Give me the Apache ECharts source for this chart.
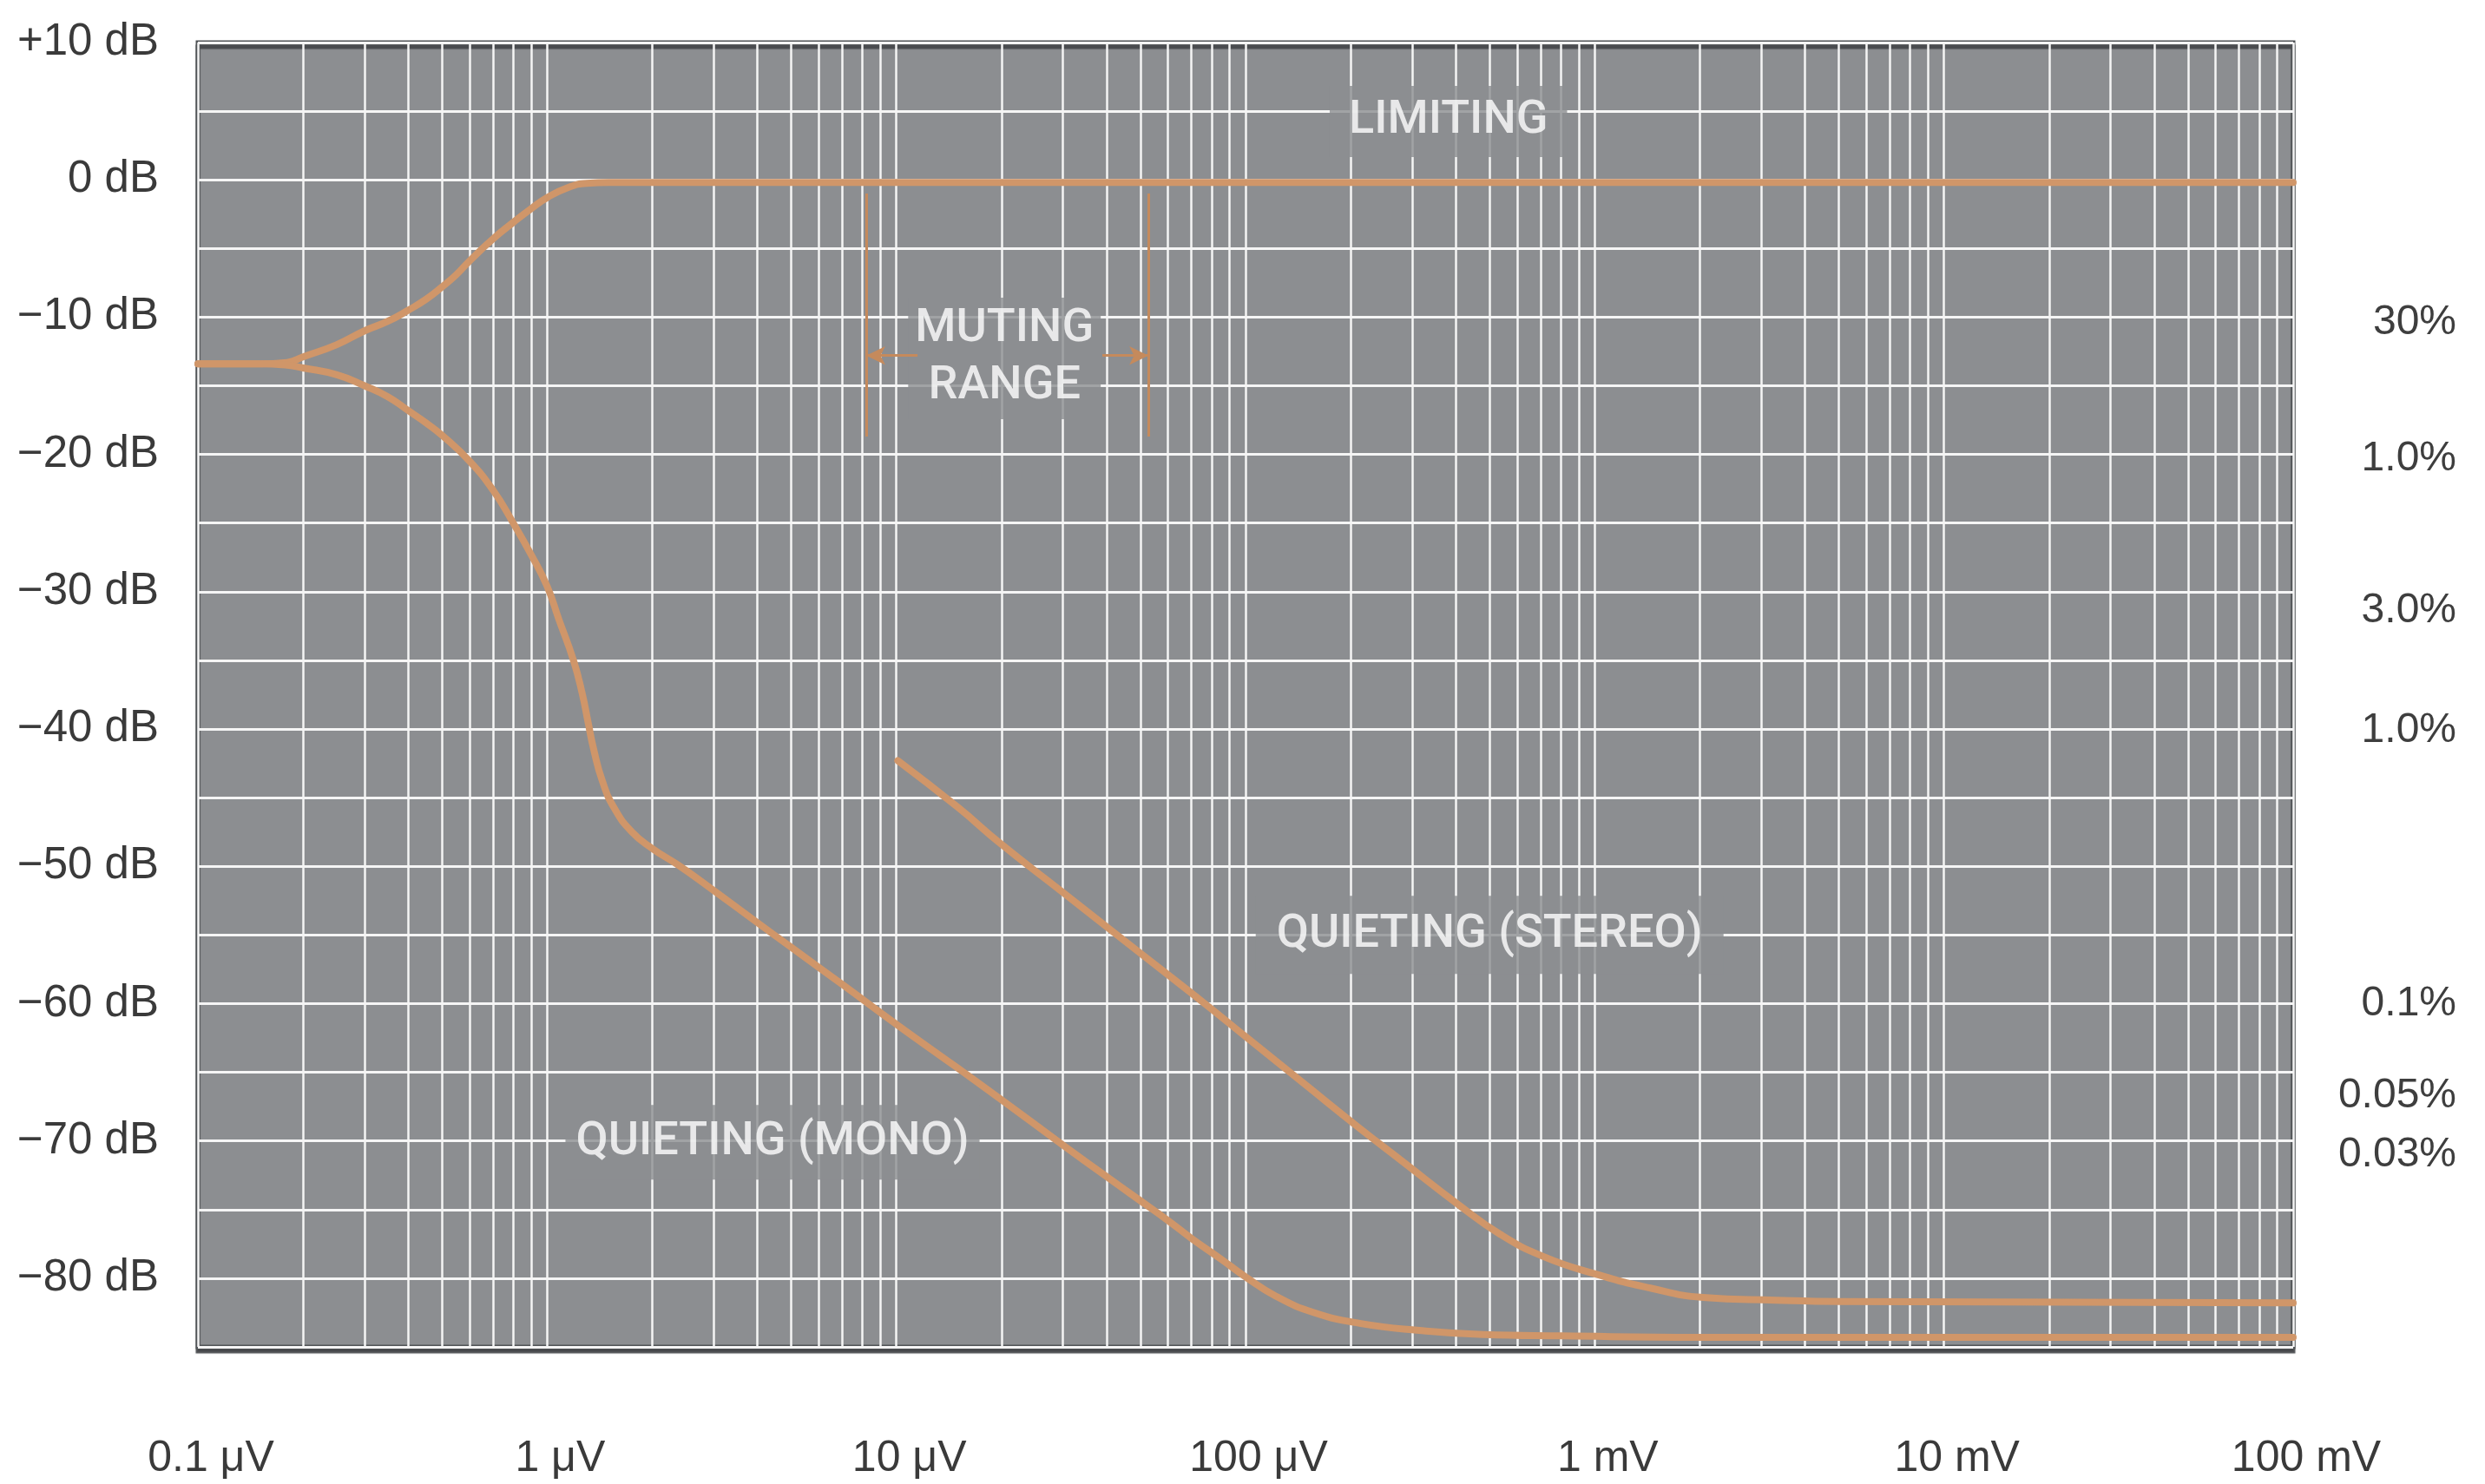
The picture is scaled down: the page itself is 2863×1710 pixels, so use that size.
<!DOCTYPE html>
<html><head><meta charset="utf-8">
<script src="https://cdn.jsdelivr.net/npm/echarts@6/dist/echarts.min.js"></script>
<style>html,body{margin:0;padding:0;background:#fff}#c{width:2863px;height:1710px}</style>
</head><body><div id="c"></div>
<script>
// ---------- data (x in µV, y in dB) ----------
const xTickValues = [0.1, 1, 10, 100, 1000, 10000, 100000];
const xTickLabels = ['0.1 μV', '1 μV', '10 μV', '100 μV', '1 mV', '10 mV', '100 mV'];
const yTickValues = [10, 0, -10, -20, -30, -40, -50, -60, -70, -80];
const yTickLabels = ['+10 dB', '0 dB', '−10 dB', '−20 dB', '−30 dB', '−40 dB', '−50 dB', '−60 dB', '−70 dB', '−80 dB'];
const rightTickValues = [-10.4, -20.3, -31.4, -40.1, -60, -66.7, -71];
const rightTickLabels = ['30%', '1.0%', '3.0%', '1.0%', '0.1%', '0.05%', '0.03%'];

const limitingX = [0.1, 0.15, 0.18, 0.2, 0.25, 0.3, 0.35, 0.4, 0.45, 0.5, 0.55, 0.6, 0.7, 0.8, 0.9, 1.0, 1.15, 1.3, 1.5, 2, 10, 100, 1000, 10000, 100000];
const limitingY = [-13.4, -13.4, -13.3, -12.9, -12.0, -11.0, -10.3, -9.5, -8.7, -7.8, -6.9, -5.9, -4.3, -3.1, -2.1, -1.3, -0.55, -0.25, -0.2, -0.2, -0.2, -0.2, -0.2, -0.2, -0.2];

const monoX = [0.1, 0.15, 0.18, 0.2, 0.25, 0.3, 0.35, 0.4, 0.45, 0.5, 0.6, 0.7, 0.8, 0.9, 1.0, 1.08, 1.19, 1.26, 1.31, 1.36, 1.44, 1.56, 1.75, 2.0, 2.37, 2.87, 4, 5, 7, 10, 15, 20, 30, 40, 49, 60, 70, 85, 100, 122, 157, 214, 314, 478, 808, 2000, 100000];
const monoY = [-13.4, -13.4, -13.5, -13.7, -14.2, -15.0, -15.8, -16.8, -17.7, -18.6, -20.5, -22.6, -25.0, -27.3, -29.6, -32.0, -35.0, -37.4, -39.5, -41.5, -43.8, -45.8, -47.5, -48.7, -49.9, -51.4, -54.1, -55.9, -58.6, -61.5, -64.7, -67.0, -70.3, -72.6, -74.2, -75.8, -77.1, -78.6, -79.9, -81.3, -82.5, -83.3, -83.8, -84.1, -84.2, -84.3, -84.3];

const stereoX = [10.1, 15, 20, 30, 40, 60, 80, 100, 150, 208, 285, 405, 536, 710, 1007, 1434, 2043, 3300, 5000, 100000];
const stereoY = [-42.3, -45.7, -48.4, -51.9, -54.4, -57.9, -60.4, -62.4, -66.0, -68.9, -71.6, -74.6, -76.8, -78.4, -79.7, -80.7, -81.4, -81.6, -81.7, -81.8];

const mutingX = [8.2, 52.7];          // muting range limits
const mutingTop = -1.0, mutingBottom = -18.7;
const mutingArrowY = -12.8;
const mutingArrowTailX = [11.5, 38.9];

const annotTexts = ['LIMITING', 'MUTING\nRANGE', 'QUIETING (STEREO)', 'QUIETING (MONO)'];
const annotX = [381, 20.4, 500, 4.42];
const annotY = [4.25, -13.0, -55.0, -70.1];

// ---------- helpers ----------
function lookup(vals, labels, v) {
  for (let i = 0; i < vals.length; i++) {
    if (Math.abs(vals[i] - v) <= 1e-6 * Math.max(1, Math.abs(vals[i]))) return labels[i];
  }
  return '';
}
const zip = (xs, ys) => xs.map((x, i) => [x, ys[i]]);
const minorX = [];
for (let d = 0; d < xTickValues.length - 1; d++) for (let k = 2; k <= 9; k++) minorX.push(xTickValues[d] * k);

const BG = '#8c8e91';
const CURVE = '#d09669';
const GRIDC = '#f5f5f5';
const sans = '"Liberation Sans", Arial, sans-serif';
const annotFont = 'Roboto, "Liberation Sans", sans-serif';

const annotPadding = [[8, 22], [4, 8], [12, 24], [10, 12]];

const chart = echarts.init(document.getElementById('c'), null, {renderer: 'canvas'});
chart.setOption({
  animation: false,
  backgroundColor: '#ffffff',
  grid: {
    left: 228, right: 221, top: 49, bottom: 158,
    show: true, backgroundColor: BG, borderColor: '#515457', borderWidth: 5,
    shadowColor: 'rgba(70,72,75,0.95)', shadowOffsetY: 5, shadowBlur: 1,
    containLabel: false, outerBoundsMode: 'none'
  },
  xAxis: [{
    type: 'log', logBase: 10, min: 0.1, max: 100000,
    axisLine: {show: false},
    axisTick: {show: false, customValues: xTickValues},
    splitLine: {show: true, lineStyle: {color: GRIDC, width: 2.5}},
    axisLabel: {
      customValues: xTickValues,
      formatter: v => lookup(xTickValues, xTickLabels, v),
      fontFamily: sans, fontSize: 50, color: '#3a3a3a', margin: 104,
      padding: [0, 0, 0, 30]
    }
  }, {
    type: 'log', logBase: 10, min: 0.1, max: 100000, position: 'bottom',
    axisLine: {show: false},
    axisTick: {show: false, customValues: minorX},
    axisLabel: {show: false},
    splitLine: {show: true, lineStyle: {color: GRIDC, width: 2.5}}
  }],
  yAxis: [{
    type: 'value', min: -85, max: 10, interval: 5,
    axisLine: {show: false}, axisTick: {show: false},
    splitLine: {show: true, lineStyle: {color: GRIDC, width: 3}},
    axisLabel: {
      customValues: yTickValues,
      formatter: v => lookup(yTickValues, yTickLabels, v),
      fontFamily: sans, fontSize: 51, color: '#3a3a3a', margin: 45,
      padding: [0, 0, 9, 0]
    }
  }, {
    type: 'value', min: -85, max: 10, position: 'right',
    axisLine: {show: false}, axisTick: {show: false}, splitLine: {show: false},
    axisLabel: {
      customValues: rightTickValues,
      formatter: v => lookup(rightTickValues, rightTickLabels, v),
      fontFamily: sans, fontSize: 48, color: '#3e3e3e', align: 'right', margin: 188
    }
  }],
  series: [
    {
      type: 'scatter', name: 'annotations', z: 2, symbolSize: 0, silent: true,
      data: annotTexts.map((t, i) => ({
        value: [annotX[i], annotY[i]],
        label: {formatter: t, padding: annotPadding[i]}
      })),
      label: {
        show: true, position: 'inside', color: '#ffffff', fontFamily: annotFont, fontWeight: 500, fontSize: 54,
        lineHeight: 66, align: 'center', verticalAlign: 'middle', backgroundColor: BG
      }
    },
    {
      type: 'line', name: 'Limiting', z: 3, data: zip(limitingX, limitingY), showSymbol: false,
      smooth: 0.5, lineStyle: {color: CURVE, width: 8, cap: 'round', join: 'round'}
    },
    {
      type: 'line', name: 'Quieting (Mono)', z: 3, data: zip(monoX, monoY), showSymbol: false,
      smooth: 0.5, lineStyle: {color: CURVE, width: 8, cap: 'round', join: 'round'}
    },
    {
      type: 'line', name: 'Quieting (Stereo)', z: 3, data: zip(stereoX, stereoY), showSymbol: false,
      smooth: 0.5, lineStyle: {color: CURVE, width: 8, cap: 'round', join: 'round'}
    },
    {
      type: 'line', name: 'Muting range', z: 4, data: [], showSymbol: false,
      markLine: {
        silent: true, animation: false, z: 4,
        label: {show: false},
        lineStyle: {color: '#c58a5c', width: 3, type: 'solid'},
        symbol: ['none', 'none'],
        data: [
          [{coord: [mutingX[0], mutingTop]}, {coord: [mutingX[0], mutingBottom]}],
          [{coord: [mutingX[1], mutingTop]}, {coord: [mutingX[1], mutingBottom]}],
          [{coord: [mutingArrowTailX[0], mutingArrowY], symbol: 'none'}, {coord: [mutingX[0], mutingArrowY], symbol: 'arrow', symbolSize: [16, 22]}],
          [{coord: [mutingArrowTailX[1], mutingArrowY], symbol: 'none'}, {coord: [mutingX[1], mutingArrowY], symbol: 'arrow', symbolSize: [16, 22]}]
        ]
      }
    }
  ]
});
</script></body></html>
